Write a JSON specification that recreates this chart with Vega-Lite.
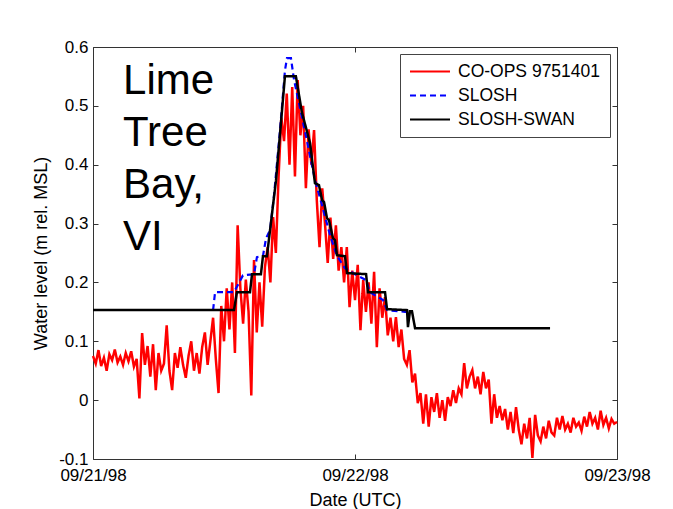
{
  "$schema": "https://vega.github.io/schema/vega-lite/v6.json",
  "width": 524,
  "height": 412,
  "autosize": {"type": "none"},
  "padding": {"left": 93, "top": 47, "right": 56, "bottom": 50},
  "background": "white",
  "config": {
    "view": {"stroke": null},
    "font": "Liberation Sans",
    "legend": {
      "orient": "top-right",
      "offset": 7,
      "fillColor": "white",
      "strokeColor": "#444444",
      "padding": 9,
      "labelFontSize": 17.5,
      "labelFont": "Liberation Sans",
      "labelColor": "black",
      "labelOffset": 7,
      "symbolType": "stroke",
      "symbolSize": 1600,
      "symbolStrokeWidth": 2,
      "clipHeight": 17,
      "rowPadding": 6
    }
  },
  "datasets": {
    "obs": [
      {"time": "1998-09-21T00:00Z", "level": 0.075},
      {"time": "1998-09-21T00:15Z", "level": 0.062},
      {"time": "1998-09-21T00:30Z", "level": 0.085},
      {"time": "1998-09-21T00:45Z", "level": 0.058},
      {"time": "1998-09-21T01:00Z", "level": 0.072},
      {"time": "1998-09-21T01:15Z", "level": 0.050},
      {"time": "1998-09-21T01:30Z", "level": 0.078},
      {"time": "1998-09-21T01:45Z", "level": 0.068},
      {"time": "1998-09-21T02:00Z", "level": 0.086},
      {"time": "1998-09-21T02:15Z", "level": 0.064},
      {"time": "1998-09-21T02:30Z", "level": 0.074},
      {"time": "1998-09-21T02:45Z", "level": 0.060},
      {"time": "1998-09-21T03:00Z", "level": 0.080},
      {"time": "1998-09-21T03:15Z", "level": 0.066},
      {"time": "1998-09-21T03:30Z", "level": 0.083},
      {"time": "1998-09-21T03:45Z", "level": 0.057},
      {"time": "1998-09-21T04:00Z", "level": 0.070},
      {"time": "1998-09-21T04:15Z", "level": 0.003},
      {"time": "1998-09-21T04:30Z", "level": 0.114},
      {"time": "1998-09-21T04:45Z", "level": 0.060},
      {"time": "1998-09-21T05:00Z", "level": 0.092},
      {"time": "1998-09-21T05:15Z", "level": 0.040},
      {"time": "1998-09-21T05:30Z", "level": 0.095},
      {"time": "1998-09-21T05:45Z", "level": 0.017},
      {"time": "1998-09-21T06:00Z", "level": 0.080},
      {"time": "1998-09-21T06:15Z", "level": 0.050},
      {"time": "1998-09-21T06:30Z", "level": 0.062},
      {"time": "1998-09-21T06:45Z", "level": 0.127},
      {"time": "1998-09-21T07:00Z", "level": 0.050},
      {"time": "1998-09-21T07:15Z", "level": 0.017},
      {"time": "1998-09-21T07:30Z", "level": 0.080},
      {"time": "1998-09-21T07:45Z", "level": 0.055},
      {"time": "1998-09-21T08:00Z", "level": 0.090},
      {"time": "1998-09-21T08:15Z", "level": 0.060},
      {"time": "1998-09-21T08:30Z", "level": 0.038},
      {"time": "1998-09-21T08:45Z", "level": 0.075},
      {"time": "1998-09-21T09:00Z", "level": 0.100},
      {"time": "1998-09-21T09:15Z", "level": 0.050},
      {"time": "1998-09-21T09:30Z", "level": 0.080},
      {"time": "1998-09-21T09:45Z", "level": 0.045},
      {"time": "1998-09-21T10:00Z", "level": 0.090},
      {"time": "1998-09-21T10:15Z", "level": 0.115},
      {"time": "1998-09-21T10:30Z", "level": 0.060},
      {"time": "1998-09-21T10:45Z", "level": 0.100},
      {"time": "1998-09-21T11:00Z", "level": 0.140},
      {"time": "1998-09-21T11:15Z", "level": 0.070},
      {"time": "1998-09-21T11:30Z", "level": 0.012},
      {"time": "1998-09-21T11:45Z", "level": 0.160},
      {"time": "1998-09-21T12:00Z", "level": 0.100},
      {"time": "1998-09-21T12:15Z", "level": 0.190},
      {"time": "1998-09-21T12:30Z", "level": 0.120},
      {"time": "1998-09-21T12:45Z", "level": 0.200},
      {"time": "1998-09-21T13:00Z", "level": 0.080},
      {"time": "1998-09-21T13:15Z", "level": 0.297},
      {"time": "1998-09-21T13:30Z", "level": 0.190},
      {"time": "1998-09-21T13:45Z", "level": 0.130},
      {"time": "1998-09-21T14:00Z", "level": 0.205},
      {"time": "1998-09-21T14:15Z", "level": 0.150},
      {"time": "1998-09-21T14:30Z", "level": 0.008},
      {"time": "1998-09-21T14:45Z", "level": 0.238},
      {"time": "1998-09-21T15:00Z", "level": 0.115},
      {"time": "1998-09-21T15:15Z", "level": 0.200},
      {"time": "1998-09-21T15:30Z", "level": 0.125},
      {"time": "1998-09-21T15:45Z", "level": 0.226},
      {"time": "1998-09-21T16:00Z", "level": 0.260},
      {"time": "1998-09-21T16:15Z", "level": 0.200},
      {"time": "1998-09-21T16:30Z", "level": 0.311},
      {"time": "1998-09-21T16:45Z", "level": 0.250},
      {"time": "1998-09-21T17:00Z", "level": 0.380},
      {"time": "1998-09-21T17:15Z", "level": 0.480},
      {"time": "1998-09-21T17:30Z", "level": 0.440},
      {"time": "1998-09-21T17:45Z", "level": 0.521},
      {"time": "1998-09-21T18:00Z", "level": 0.400},
      {"time": "1998-09-21T18:15Z", "level": 0.532},
      {"time": "1998-09-21T18:30Z", "level": 0.380},
      {"time": "1998-09-21T18:45Z", "level": 0.544},
      {"time": "1998-09-21T19:00Z", "level": 0.450},
      {"time": "1998-09-21T19:15Z", "level": 0.500},
      {"time": "1998-09-21T19:30Z", "level": 0.360},
      {"time": "1998-09-21T19:45Z", "level": 0.460},
      {"time": "1998-09-21T20:00Z", "level": 0.400},
      {"time": "1998-09-21T20:15Z", "level": 0.459},
      {"time": "1998-09-21T20:30Z", "level": 0.340},
      {"time": "1998-09-21T20:45Z", "level": 0.260},
      {"time": "1998-09-21T21:00Z", "level": 0.360},
      {"time": "1998-09-21T21:15Z", "level": 0.300},
      {"time": "1998-09-21T21:30Z", "level": 0.233},
      {"time": "1998-09-21T21:45Z", "level": 0.310},
      {"time": "1998-09-21T22:00Z", "level": 0.240},
      {"time": "1998-09-21T22:15Z", "level": 0.297},
      {"time": "1998-09-21T22:30Z", "level": 0.220},
      {"time": "1998-09-21T22:45Z", "level": 0.260},
      {"time": "1998-09-21T23:00Z", "level": 0.200},
      {"time": "1998-09-21T23:15Z", "level": 0.260},
      {"time": "1998-09-21T23:30Z", "level": 0.158},
      {"time": "1998-09-21T23:45Z", "level": 0.220},
      {"time": "1998-09-22T00:00Z", "level": 0.170},
      {"time": "1998-09-22T00:15Z", "level": 0.230},
      {"time": "1998-09-22T00:30Z", "level": 0.119},
      {"time": "1998-09-22T00:45Z", "level": 0.204},
      {"time": "1998-09-22T01:00Z", "level": 0.150},
      {"time": "1998-09-22T01:15Z", "level": 0.200},
      {"time": "1998-09-22T01:30Z", "level": 0.130},
      {"time": "1998-09-22T01:45Z", "level": 0.218},
      {"time": "1998-09-22T02:00Z", "level": 0.090},
      {"time": "1998-09-22T02:15Z", "level": 0.190},
      {"time": "1998-09-22T02:30Z", "level": 0.140},
      {"time": "1998-09-22T02:45Z", "level": 0.175},
      {"time": "1998-09-22T03:00Z", "level": 0.110},
      {"time": "1998-09-22T03:15Z", "level": 0.140},
      {"time": "1998-09-22T03:30Z", "level": 0.100},
      {"time": "1998-09-22T03:45Z", "level": 0.141},
      {"time": "1998-09-22T04:00Z", "level": 0.090},
      {"time": "1998-09-22T04:15Z", "level": 0.120},
      {"time": "1998-09-22T04:30Z", "level": 0.070},
      {"time": "1998-09-22T04:45Z", "level": 0.060},
      {"time": "1998-09-22T05:00Z", "level": 0.085},
      {"time": "1998-09-22T05:15Z", "level": 0.030},
      {"time": "1998-09-22T05:30Z", "level": 0.045},
      {"time": "1998-09-22T05:45Z", "level": -0.005},
      {"time": "1998-09-22T06:00Z", "level": 0.012},
      {"time": "1998-09-22T06:15Z", "level": -0.040},
      {"time": "1998-09-22T06:30Z", "level": 0.010},
      {"time": "1998-09-22T06:45Z", "level": -0.045},
      {"time": "1998-09-22T07:00Z", "level": 0.005},
      {"time": "1998-09-22T07:15Z", "level": -0.020},
      {"time": "1998-09-22T07:30Z", "level": 0.012},
      {"time": "1998-09-22T07:45Z", "level": -0.030},
      {"time": "1998-09-22T08:00Z", "level": 0.000},
      {"time": "1998-09-22T08:15Z", "level": -0.035},
      {"time": "1998-09-22T08:30Z", "level": 0.005},
      {"time": "1998-09-22T08:45Z", "level": -0.010},
      {"time": "1998-09-22T09:00Z", "level": 0.017},
      {"time": "1998-09-22T09:15Z", "level": -0.005},
      {"time": "1998-09-22T09:30Z", "level": 0.020},
      {"time": "1998-09-22T09:45Z", "level": 0.010},
      {"time": "1998-09-22T10:00Z", "level": 0.063},
      {"time": "1998-09-22T10:15Z", "level": 0.020},
      {"time": "1998-09-22T10:30Z", "level": 0.040},
      {"time": "1998-09-22T10:45Z", "level": 0.051},
      {"time": "1998-09-22T11:00Z", "level": 0.020},
      {"time": "1998-09-22T11:15Z", "level": 0.040},
      {"time": "1998-09-22T11:30Z", "level": 0.010},
      {"time": "1998-09-22T11:45Z", "level": 0.048},
      {"time": "1998-09-22T12:00Z", "level": 0.020},
      {"time": "1998-09-22T12:15Z", "level": 0.035},
      {"time": "1998-09-22T12:30Z", "level": -0.040},
      {"time": "1998-09-22T12:45Z", "level": 0.010},
      {"time": "1998-09-22T13:00Z", "level": -0.030},
      {"time": "1998-09-22T13:15Z", "level": -0.010},
      {"time": "1998-09-22T13:30Z", "level": -0.034},
      {"time": "1998-09-22T13:45Z", "level": -0.015},
      {"time": "1998-09-22T14:00Z", "level": -0.050},
      {"time": "1998-09-22T14:15Z", "level": -0.020},
      {"time": "1998-09-22T14:30Z", "level": -0.056},
      {"time": "1998-09-22T14:45Z", "level": -0.012},
      {"time": "1998-09-22T15:00Z", "level": -0.050},
      {"time": "1998-09-22T15:15Z", "level": -0.075},
      {"time": "1998-09-22T15:30Z", "level": -0.040},
      {"time": "1998-09-22T15:45Z", "level": -0.065},
      {"time": "1998-09-22T16:00Z", "level": -0.030},
      {"time": "1998-09-22T16:15Z", "level": -0.098},
      {"time": "1998-09-22T16:30Z", "level": -0.025},
      {"time": "1998-09-22T16:45Z", "level": -0.060},
      {"time": "1998-09-22T17:00Z", "level": -0.070},
      {"time": "1998-09-22T17:15Z", "level": -0.045},
      {"time": "1998-09-22T17:30Z", "level": -0.065},
      {"time": "1998-09-22T17:45Z", "level": -0.035},
      {"time": "1998-09-22T18:00Z", "level": -0.055},
      {"time": "1998-09-22T18:15Z", "level": -0.060},
      {"time": "1998-09-22T18:30Z", "level": -0.030},
      {"time": "1998-09-22T18:45Z", "level": -0.050},
      {"time": "1998-09-22T19:00Z", "level": -0.027},
      {"time": "1998-09-22T19:15Z", "level": -0.050},
      {"time": "1998-09-22T19:30Z", "level": -0.040},
      {"time": "1998-09-22T19:45Z", "level": -0.055},
      {"time": "1998-09-22T20:00Z", "level": -0.030},
      {"time": "1998-09-22T20:15Z", "level": -0.045},
      {"time": "1998-09-22T20:30Z", "level": -0.038},
      {"time": "1998-09-22T20:45Z", "level": -0.052},
      {"time": "1998-09-22T21:00Z", "level": -0.028},
      {"time": "1998-09-22T21:15Z", "level": -0.045},
      {"time": "1998-09-22T21:30Z", "level": -0.020},
      {"time": "1998-09-22T21:45Z", "level": -0.040},
      {"time": "1998-09-22T22:00Z", "level": -0.030},
      {"time": "1998-09-22T22:15Z", "level": -0.050},
      {"time": "1998-09-22T22:30Z", "level": -0.018},
      {"time": "1998-09-22T22:45Z", "level": -0.042},
      {"time": "1998-09-22T23:00Z", "level": -0.030},
      {"time": "1998-09-22T23:15Z", "level": -0.048},
      {"time": "1998-09-22T23:30Z", "level": -0.032},
      {"time": "1998-09-22T23:45Z", "level": -0.040},
      {"time": "1998-09-23T00:00Z", "level": -0.037}
    ],
    "slosh": [
      {"time": "1998-09-21T11:00Z", "level": 0.153},
      {"time": "1998-09-21T11:11Z", "level": 0.1835},
      {"time": "1998-09-21T12:55Z", "level": 0.1835},
      {"time": "1998-09-21T13:44Z", "level": 0.212},
      {"time": "1998-09-21T14:45Z", "level": 0.214},
      {"time": "1998-09-21T15:01Z", "level": 0.243},
      {"time": "1998-09-21T15:34Z", "level": 0.2446},
      {"time": "1998-09-21T15:51Z", "level": 0.275},
      {"time": "1998-09-21T16:13Z", "level": 0.289},
      {"time": "1998-09-21T16:35Z", "level": 0.348},
      {"time": "1998-09-21T17:08Z", "level": 0.459},
      {"time": "1998-09-21T17:35Z", "level": 0.56},
      {"time": "1998-09-21T17:46Z", "level": 0.581},
      {"time": "1998-09-21T18:08Z", "level": 0.581},
      {"time": "1998-09-21T18:25Z", "level": 0.544},
      {"time": "1998-09-21T18:58Z", "level": 0.496},
      {"time": "1998-09-21T19:41Z", "level": 0.433},
      {"time": "1998-09-21T20:20Z", "level": 0.374},
      {"time": "1998-09-21T20:59Z", "level": 0.331},
      {"time": "1998-09-21T21:43Z", "level": 0.28},
      {"time": "1998-09-21T22:21Z", "level": 0.245},
      {"time": "1998-09-21T23:05Z", "level": 0.224},
      {"time": "1998-09-22T00:00Z", "level": 0.214},
      {"time": "1998-09-22T01:00Z", "level": 0.204},
      {"time": "1998-09-22T01:22Z", "level": 0.1835},
      {"time": "1998-09-22T02:34Z", "level": 0.17},
      {"time": "1998-09-22T02:56Z", "level": 0.153},
      {"time": "1998-09-22T04:35Z", "level": 0.15},
      {"time": "1998-09-22T04:57Z", "level": 0.15}
    ],
    "swan": [
      {"time": "1998-09-21T00:00Z", "level": 0.153},
      {"time": "1998-09-21T12:55Z", "level": 0.153},
      {"time": "1998-09-21T13:11Z", "level": 0.1835},
      {"time": "1998-09-21T14:23Z", "level": 0.1835},
      {"time": "1998-09-21T14:34Z", "level": 0.2141},
      {"time": "1998-09-21T15:23Z", "level": 0.2141},
      {"time": "1998-09-21T15:34Z", "level": 0.2446},
      {"time": "1998-09-21T15:56Z", "level": 0.2446},
      {"time": "1998-09-21T16:46Z", "level": 0.3738},
      {"time": "1998-09-21T17:35Z", "level": 0.5505},
      {"time": "1998-09-21T18:35Z", "level": 0.5505},
      {"time": "1998-09-21T19:08Z", "level": 0.4893},
      {"time": "1998-09-21T19:53Z", "level": 0.4366},
      {"time": "1998-09-21T20:09Z", "level": 0.3959},
      {"time": "1998-09-21T20:20Z", "level": 0.3687},
      {"time": "1998-09-21T20:42Z", "level": 0.3653},
      {"time": "1998-09-21T20:59Z", "level": 0.3398},
      {"time": "1998-09-21T21:10Z", "level": 0.3364},
      {"time": "1998-09-21T21:26Z", "level": 0.3092},
      {"time": "1998-09-21T21:37Z", "level": 0.3058},
      {"time": "1998-09-21T21:59Z", "level": 0.2752},
      {"time": "1998-09-21T22:10Z", "level": 0.2718},
      {"time": "1998-09-21T22:21Z", "level": 0.2463},
      {"time": "1998-09-21T23:05Z", "level": 0.2446},
      {"time": "1998-09-21T23:16Z", "level": 0.2158},
      {"time": "1998-09-22T01:01Z", "level": 0.2141},
      {"time": "1998-09-22T01:11Z", "level": 0.1835},
      {"time": "1998-09-22T02:45Z", "level": 0.1835},
      {"time": "1998-09-22T02:56Z", "level": 0.1546},
      {"time": "1998-09-22T04:46Z", "level": 0.1529},
      {"time": "1998-09-22T04:51Z", "level": 0.124},
      {"time": "1998-09-22T05:02Z", "level": 0.1512},
      {"time": "1998-09-22T05:13Z", "level": 0.1512},
      {"time": "1998-09-22T05:30Z", "level": 0.1223},
      {"time": "1998-09-22T17:52Z", "level": 0.1223}
    ],
    "note": [
      {"time": "1998-09-21T02:45Z", "level": 0.576, "label": "Lime\nTree\nBay,\nVI"}
    ]
  },
  "layer": [
    {
      "data": {"name": "obs"},
      "mark": {"type": "line", "strokeWidth": 2.5},
      "encoding": {
        "x": {
          "field": "time",
          "type": "temporal",
          "scale": {"type": "utc", "domain": [{"year": 1998, "month": 9, "date": 21, "utc": true}, {"year": 1998, "month": 9, "date": 23, "utc": true}]},
          "axis": {
            "orient": "bottom",
            "values": [{"year": 1998, "month": 9, "date": 21, "utc": true}, {"year": 1998, "month": 9, "date": 22, "utc": true}, {"year": 1998, "month": 9, "date": 23, "utc": true}],
            "format": "%m/%d/%y",
            "title": "Date (UTC)",
            "grid": false,
            "tickSize": -5,
            "tickColor": "#333333",
            "domainColor": "#333333",
            "labelPadding": 13,
            "labelFontSize": 17,
            "labelColor": "black",
            "labelFlush": false,
            "labelOverlap": false,
            "titleFontSize": 18,
            "titleFontWeight": "normal",
            "titleColor": "black",
            "titlePadding": 8
          }
        },
        "y": {
          "field": "level",
          "type": "quantitative",
          "scale": {"domain": [-0.1, 0.6], "nice": false, "zero": false},
          "axis": {
            "orient": "left",
            "values": [-0.1, 0, 0.1, 0.2, 0.3, 0.4, 0.5, 0.6],
            "labelExpr": "datum.value < 0 ? '-' + format(-datum.value, '.1f') : format(datum.value, '.1~f')",
            "title": "Water level (m rel. MSL)",
            "grid": false,
            "tickSize": -5,
            "tickColor": "#333333",
            "domainColor": "#333333",
            "labelPadding": 10,
            "labelFontSize": 17,
            "labelColor": "black",
            "labelFlush": false,
            "labelOverlap": false,
            "titleFontSize": 18,
            "titleFontWeight": "normal",
            "titleColor": "black",
            "titlePadding": 8
          }
        },
        "color": {
          "datum": "CO-OPS 9751401",
          "scale": {"domain": ["CO-OPS 9751401", "SLOSH", "SLOSH-SWAN"], "range": ["#ff0000", "#0000ff", "#000000"]},
          "legend": {"title": null}
        },
        "strokeDash": {
          "datum": "CO-OPS 9751401",
          "scale": {"domain": ["CO-OPS 9751401", "SLOSH", "SLOSH-SWAN"], "range": [[1, 0], [6, 4], [1, 0]]},
          "legend": {"title": null}
        }
      }
    },
    {
      "data": {"name": "slosh"},
      "mark": {"type": "line", "strokeWidth": 2.2},
      "encoding": {
        "x": {"field": "time", "type": "temporal", "axis": null},
        "y": {"field": "level", "type": "quantitative", "axis": null},
        "color": {"datum": "SLOSH"},
        "strokeDash": {"datum": "SLOSH"}
      }
    },
    {
      "data": {"name": "swan"},
      "mark": {"type": "line", "strokeWidth": 2.5},
      "encoding": {
        "x": {
          "field": "time",
          "type": "temporal",
          "axis": {
            "orient": "top",
            "values": [{"year": 1998, "month": 9, "date": 21, "utc": true}, {"year": 1998, "month": 9, "date": 22, "utc": true}, {"year": 1998, "month": 9, "date": 23, "utc": true}],
            "labels": false,
            "title": null,
            "grid": false,
            "tickSize": -5,
            "tickColor": "#333333",
            "domainColor": "#333333"
          }
        },
        "y": {
          "field": "level",
          "type": "quantitative",
          "axis": {
            "orient": "right",
            "values": [-0.1, 0, 0.1, 0.2, 0.3, 0.4, 0.5, 0.6],
            "labels": false,
            "title": null,
            "grid": false,
            "tickSize": -5,
            "tickColor": "#333333",
            "domainColor": "#333333"
          }
        },
        "color": {"datum": "SLOSH-SWAN"},
        "strokeDash": {"datum": "SLOSH-SWAN"}
      }
    },
    {
      "data": {"name": "note"},
      "mark": {"type": "text", "align": "left", "baseline": "top", "fontSize": 42, "lineHeight": 52, "lineBreak": "\n", "font": "Liberation Sans", "color": "black"},
      "encoding": {
        "x": {"field": "time", "type": "temporal", "axis": null},
        "y": {"field": "level", "type": "quantitative", "axis": null},
        "text": {"field": "label"}
      }
    }
  ],
  "resolve": {"axis": {"x": "independent", "y": "independent"}}
}
